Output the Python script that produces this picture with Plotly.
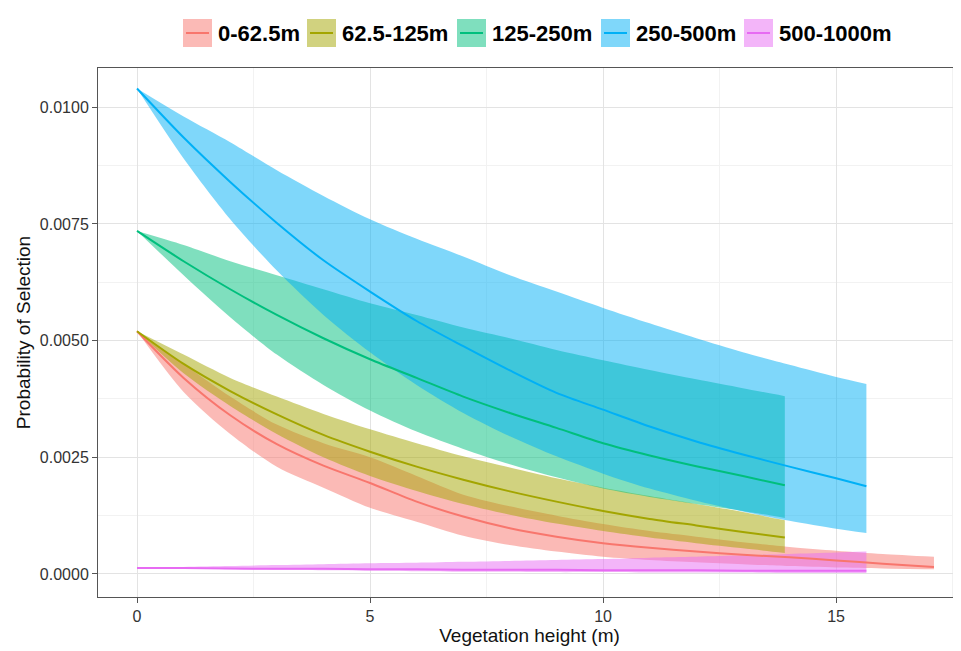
import plotly.graph_objects as go

# ---------------- data ----------------
labels = ["0-62.5m", "62.5-125m", "125-250m", "250-500m", "500-1000m"]
colors = ["#F8766D", "#A3A500", "#00BF7D", "#00B0F6", "#E76BF3"]
fills = ["rgba(248,118,109,0.5)", "rgba(163,165,0,0.5)", "rgba(0,191,125,0.5)",
         "rgba(0,176,246,0.5)", "rgba(231,107,243,0.5)"]

x_red = [0, 1, 2, 3, 4, 5, 6, 7, 8, 9, 10, 11, 12, 13, 14, 15, 16, 17.1]
red_fit = [0.0052, 0.0042, 0.0034, 0.00278, 0.00232, 0.00195, 0.00155, 0.00123, 0.00098,
           0.0008, 0.00066, 0.00056, 0.00048, 0.00041, 0.00036, 0.00029, 0.00022, 0.00015]
red_hi = [0.0052, 0.0045, 0.0038, 0.0032, 0.0028, 0.0025, 0.0021, 0.0017, 0.00145,
          0.00125, 0.00107, 0.00092, 0.0008, 0.00068, 0.00058, 0.0005, 0.00043, 0.00037]
red_lo = [0.0052, 0.0039, 0.003, 0.0023, 0.00185, 0.00142, 0.00112, 0.00082, 0.00062,
          0.00048, 0.00037, 0.0003, 0.00025, 0.00021, 0.00017, 0.00014, 0.00012, 0.0001]

x_olive = [0, 1, 2, 3, 4, 5, 6, 7, 8, 9, 10, 11, 12, 13, 13.9]
olive_fit = [0.0052, 0.0045, 0.00392, 0.00342, 0.00298, 0.00262, 0.0023, 0.00202, 0.00177,
             0.00155, 0.00135, 0.00118, 0.00104, 0.0009, 0.00078]
olive_hi = [0.0052, 0.0047, 0.0042, 0.0038, 0.00343, 0.0031, 0.0028, 0.00252, 0.00228,
            0.00205, 0.00185, 0.00167, 0.0015, 0.00133, 0.00115]
olive_lo = [0.0052, 0.0043, 0.0036, 0.003, 0.0025, 0.0021, 0.00178, 0.0015, 0.00127,
            0.00108, 0.00092, 0.00078, 0.00066, 0.00055, 0.00045]

x_green = [0, 1, 2, 3, 4, 5, 6, 7, 8, 9, 10, 11, 12, 13, 13.9]
green_fit = [0.00735, 0.0067, 0.0061, 0.00555, 0.00505, 0.0046, 0.0042, 0.0038, 0.00345,
             0.00313, 0.0028, 0.00254, 0.00231, 0.0021, 0.0019]
green_hi = [0.00735, 0.00705, 0.0067, 0.0064, 0.0061, 0.0058, 0.00555, 0.00528, 0.00505,
            0.0048, 0.00458, 0.00437, 0.00417, 0.00398, 0.00381]
green_lo = [0.00735, 0.0064, 0.0055, 0.0047, 0.00405, 0.0035, 0.00305, 0.00268, 0.00235,
            0.00207, 0.00183, 0.00165, 0.0015, 0.00135, 0.0012]

x_blue = [0, 1, 2, 3, 4, 5, 6, 7, 8, 9, 10, 11, 12, 13, 14, 15, 15.65]
blue_fit = [0.0104, 0.00935, 0.0084, 0.00752, 0.00672, 0.00605, 0.00542, 0.00488, 0.00436,
            0.00388, 0.00352, 0.00316, 0.00284, 0.00256, 0.0023, 0.00205, 0.00188]
blue_hi = [0.0104, 0.0098, 0.00925, 0.00865, 0.0081, 0.0076, 0.00718, 0.0068, 0.0064,
           0.00605, 0.0057, 0.00537, 0.00505, 0.00475, 0.00448, 0.00422, 0.00407]
blue_lo = [0.0104, 0.0089, 0.0076, 0.0065, 0.00555, 0.00475, 0.00405, 0.00345, 0.00295,
           0.00252, 0.00215, 0.00183, 0.00157, 0.00134, 0.00114, 0.00097, 0.00088]

x_mag = [0, 1, 2, 3, 4, 5, 6, 7, 8, 9, 10, 11, 12, 13, 14, 15, 15.65]
mag_fit = [0.00013, 0.00013, 0.00012, 0.00011, 0.00011, 0.0001, 0.0001, 0.00009, 0.00009,
           0.00009, 0.00008, 0.00008, 0.00008, 0.00007, 0.00007, 0.00007, 0.00007]
mag_hi = [0.00013, 0.00015, 0.00017, 0.00019, 0.00021, 0.00023, 0.00024, 0.00026, 0.00028,
          0.0003, 0.00032, 0.00035, 0.00037, 0.0004, 0.00043, 0.00046, 0.00048]
mag_lo = [0.00013, 0.00011, 0.0001, 0.00009, 0.00008, 0.00007, 0.00006, 0.00005, 0.00005,
          0.00004, 0.00004, 0.00003, 0.00003, 0.00003, 0.00002, 0.00002, 0.00002]

x_ticks = [0, 5, 10, 15]
y_ticks = [0.0, 0.0025, 0.005, 0.0075, 0.01]
y_tick_text = ["0.0000", "0.0025", "0.0050", "0.0075", "0.0100"]

series = [
    (x_red, red_fit, red_hi, red_lo),
    (x_olive, olive_fit, olive_hi, olive_lo),
    (x_green, green_fit, green_hi, green_lo),
    (x_blue, blue_fit, blue_hi, blue_lo),
    (x_mag, mag_fit, mag_hi, mag_lo),
]

FONT = "Liberation Sans, Arial, sans-serif"

fig = go.Figure()

# ribbons first (lower edge, then upper edge filled to it)
for (xs, fit, hi, lo), fc, lab in zip(series, fills, labels):
    fig.add_trace(go.Scatter(x=xs, y=lo, mode="lines",
                             line=dict(width=0, shape="spline", smoothing=0.8),
                             hoverinfo="skip", showlegend=False, name=lab))
    fig.add_trace(go.Scatter(x=xs, y=hi, mode="lines", fill="tonexty", fillcolor=fc,
                             line=dict(width=0, shape="spline", smoothing=0.8),
                             hoverinfo="skip", showlegend=False, name=lab))

# then fitted lines
for (xs, fit, hi, lo), c, lab in zip(series, colors, labels):
    fig.add_trace(go.Scatter(x=xs, y=fit, mode="lines",
                             line=dict(color=c, width=2, shape="spline", smoothing=0.8),
                             name=lab, showlegend=False))

# ---------------- layout ----------------
# the page body has an 8px margin, so the figure is sized to fit the 961x651 window
OFF = 8
W, H = 961 - OFF, 651 - OFF
L, T, B, R = 98 - OFF, 68 - OFF, 54, 0
pw, ph = W - L - R, H - T - B

fig.update_layout(
    width=W, height=H,
    margin=dict(l=L, r=R, t=T, b=B, autoexpand=False),
    paper_bgcolor="white", plot_bgcolor="white",
    font=dict(family=FONT, color="#333333"),
    showlegend=False,
)
fig.update_xaxes(
    range=[-0.837, 17.68], tickvals=x_ticks, ticktext=[str(v) for v in x_ticks],
    showgrid=True, gridcolor="#e3e3e3", gridwidth=1,
    minor=dict(dtick=2.5, tick0=0, showgrid=True, gridcolor="#f2f2f2", gridwidth=1),
    showline=True, linecolor="#555555", linewidth=1, mirror=True,
    ticks="outside", ticklen=5, tickcolor="#555555",
    tickfont=dict(size=16, color="#333333"),
    title=dict(text="Vegetation height (m)", font=dict(size=19, color="#111111"), standoff=2),
    zeroline=False, automargin=False,
)
fig.update_yaxes(
    range=[-0.000493, 0.01084], tickvals=y_ticks, ticktext=y_tick_text,
    showgrid=True, gridcolor="#e3e3e3", gridwidth=1,
    minor=dict(dtick=0.00125, tick0=0, showgrid=True, gridcolor="#f2f2f2", gridwidth=1),
    showline=True, linecolor="#555555", linewidth=1,
    ticks="outside", ticklen=5, tickcolor="#555555",
    tickfont=dict(size=16, color="#333333"),
    title=dict(text="Probability of Selection", font=dict(size=19, color="#111111"), standoff=4),
    zeroline=False, automargin=False,
)

# ---------------- manual legend (ggplot style keys) ----------------
key_px = [183, 307, 457, 601, 744]   # page pixels
key_w, key_h = 29, 28
leg_cy = 33


def px2x(px):
    return (px - OFF - L) / pw


def py2y(py):
    return (H - B - (py - OFF)) / ph


for kx, c, fc, lab in zip(key_px, colors, fills, labels):
    fig.add_shape(type="rect", xref="paper", yref="paper",
                  x0=px2x(kx), x1=px2x(kx + key_w),
                  y0=py2y(leg_cy + key_h / 2), y1=py2y(leg_cy - key_h / 2),
                  fillcolor=fc, line=dict(width=0), layer="above")
    fig.add_shape(type="line", xref="paper", yref="paper",
                  x0=px2x(kx + 3), x1=px2x(kx + key_w - 3),
                  y0=py2y(leg_cy), y1=py2y(leg_cy),
                  line=dict(color=c, width=2), layer="above")
    fig.add_annotation(text="<b>%s</b>" % lab, xref="paper", yref="paper",
                       x=px2x(kx + key_w + 4), y=py2y(leg_cy), xanchor="left", yanchor="middle",
                       showarrow=False, font=dict(size=22, color="#000000", family=FONT))

fig.write_html("out.html")
